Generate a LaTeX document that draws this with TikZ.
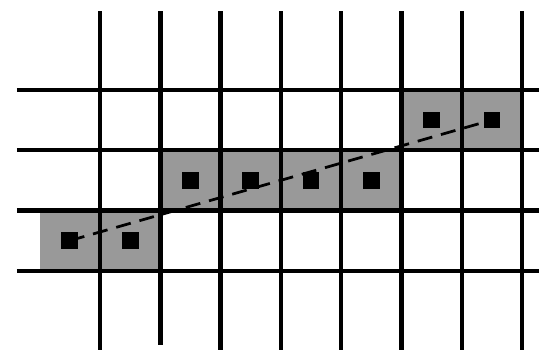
\documentclass[tikz,border=0pt]{standalone}
\usetikzlibrary{positioning}
\begin{document}
\begin{tikzpicture}[x=1cm,y=1cm,
  gridline/.style={line width=2.1pt,black},
  hit/.style={fill=black!40,draw=none},
  pix/.style={rectangle,fill=black,inner sep=0pt,minimum size=0.28cm},
  ray/.style={dash pattern=on 0.25cm off 0.15cm,line width=1.3pt}]
\useasboundingbox (-1.658,-1.41) rectangle (7.28,4.49);
% cells the line passes through
\fill[hit] (-1,0) rectangle (1,1);
\fill[hit] (1,1) rectangle (5,2);
\fill[hit] (5,2) rectangle (7,3);
% grid
\foreach \y in {0,...,3} \draw[gridline] (-1.38,\y) -- (7.28,\y);
\foreach \x in {0,2,3,...,7} \draw[gridline] (\x,-1.31) -- (\x,4.30);
\draw[gridline] (1,-1.23) -- (1,4.30);
% cell centres
\node[pix] (p1) at (-0.5,0.5) {};
\node[pix] (p2) at (0.5,0.5) {};
\node[pix] (p3) at (1.5,1.5) {};
\node[pix] (p4) at (2.5,1.5) {};
\node[pix] (p5) at (3.5,1.5) {};
\node[pix] (p6) at (4.5,1.5) {};
\node[pix] (p7) at (5.5,2.5) {};
\node[pix] (p8) at (6.5,2.5) {};
\draw[ray] (p1.center) -- (p8.center);
\end{tikzpicture}
\end{document}
